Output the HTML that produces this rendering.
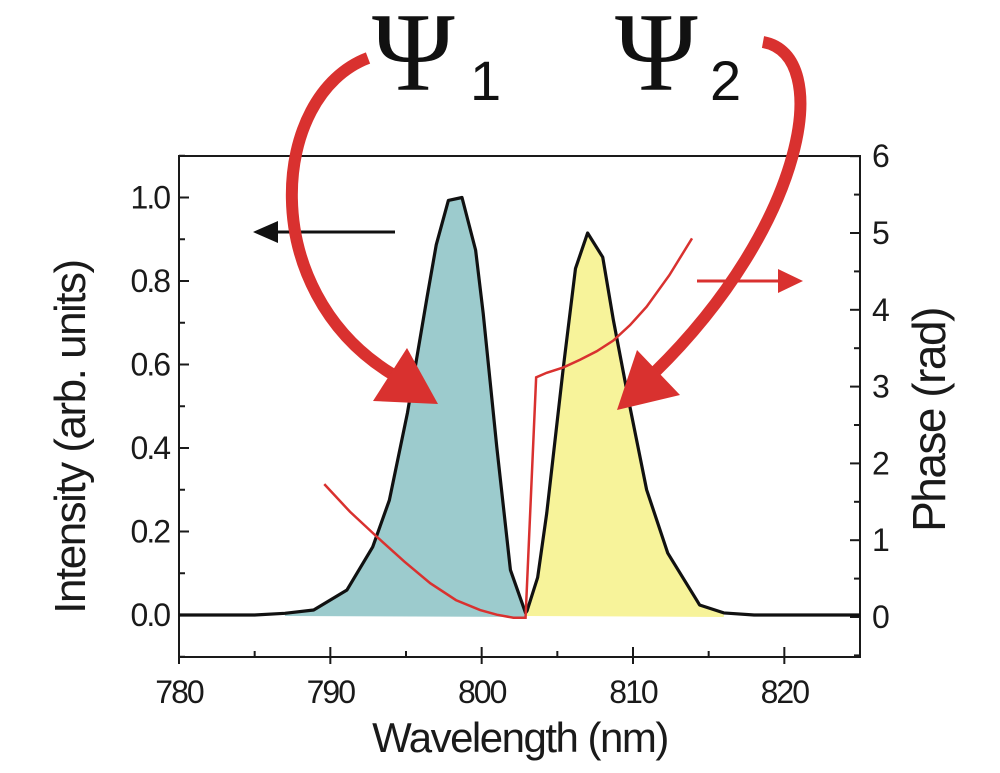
<!DOCTYPE html>
<html><head><meta charset="utf-8"><style>
html,body{margin:0;padding:0;background:#fff;}
svg{display:block;font-family:"Liberation Sans",Arial,sans-serif;}
</style></head><body>
<svg id="chart" width="1000" height="773" viewBox="0 0 1000 773">
  <g id="fills"></g>
  <g id="axes"></g>
  <g id="series"></g>
  <g id="annot"></g>
</svg>
<script>
const wavelengths = [780,785,787,788.9,791.1,792.8,793.9,795.1,796.4,797.0,797.8,798.7,799.6,800.1,801.0,801.9,802.9,803.0,803.7,804.3,805.4,806.2,807.0,808.0,808.7,809.8,810.9,812.3,814.2,814.4,816,818,825];
const intensity   = [0,0.0,0.004,0.012,0.06,0.163,0.275,0.485,0.763,0.887,0.993,1.0,0.874,0.723,0.402,0.108,0.005,0.01,0.09,0.244,0.594,0.83,0.915,0.857,0.707,0.498,0.3,0.148,0.036,0.024,0.005,0,0];
const phaseWl  = [789.6,791.3,793.1,794.9,796.6,798.3,799.9,801.0,802.1,802.9,803.6,804.3,805.4,806.5,807.6,808.7,809.8,810.9,812.4,813.9];
const phaseVal = [1.73,1.37,1.04,0.72,0.44,0.22,0.09,0.03,-0.01,-0.01,3.12,3.18,3.25,3.35,3.46,3.6,3.8,4.04,4.45,4.93];
const xTicks = [780,790,800,810,820];
const yLeftTicks = [0.0,0.2,0.4,0.6,0.8,1.0];
const yRightTicks = [0,1,2,3,4,5,6];

const L=179,R=860,T=156,B=657;
const x = w => L + (w-780)*(R-L)/45;
const yL = v => 615 - v*417.5;
const yR = v => 617 - v*76.8;
const NS="http://www.w3.org/2000/svg";
function mk(tag, attrs, parent){const e=document.createElementNS(NS,tag);for(const k in attrs)e.setAttribute(k,attrs[k]);parent.appendChild(e);return e;}
const fills=document.getElementById('fills'),axes=document.getElementById('axes'),series=document.getElementById('series');

function fillBetween(w0,w1,color,name){
  let pts=[];
  for(let i=0;i<wavelengths.length;i++){if(wavelengths[i]>=w0&&wavelengths[i]<=w1)pts.push(x(wavelengths[i])+','+yL(intensity[i]));}
  pts.push(x(w1)+','+(yL(0)+2));pts.push(x(w0)+','+(yL(0)+1));
  const p=mk('polygon',{points:pts.join(' '),fill:color},fills);
  
  
}
fillBetween(787,802.9,'#9ccbcd','psi1-fill');
fillBetween(803.0,816,'#f7f39a','psi2-fill');

const fr=mk('rect',{x:L,y:T,width:R-L,height:B-T,fill:'none',stroke:'#1a1a1a','stroke-width':2},axes);


for(let w=780;w<=825;w+=5){
  const major=(w%10===0);
  const t=mk('line',{x1:x(w),x2:x(w),y1:B+(major?7:0),y2:B-(major?10:6),stroke:'#1a1a1a','stroke-width':2},axes);
  
  
}
xTicks.forEach(w=>{
  const t=mk('text',{x:x(w),y:B+46,'text-anchor':'middle','font-size':32,fill:'#1a1a1a','letter-spacing':'-2'},axes);
  t.textContent=w;
  
  
});
for(let i=-1;i<=11;i++){
  const v=i/10;const major=(i%2===0);
  const t=mk('line',{x1:L,x2:L+(major?10:6),y1:yL(v),y2:yL(v),stroke:'#1a1a1a','stroke-width':2},axes);
  
  
}
yLeftTicks.forEach(v=>{
  const t=mk('text',{x:L-10,y:yL(v)+11,'text-anchor':'end','font-size':32,fill:'#1a1a1a','letter-spacing':'-2'},axes);
  t.textContent=v.toFixed(1);
  
  
});
for(let i=-1;i<=12;i++){
  const v=i/2;const major=(i%2===0);
  if(yR(v)<T-1)continue;
  const t=mk('line',{x1:R,x2:R-(major?10:6),y1:yR(v),y2:yR(v),stroke:'#1a1a1a','stroke-width':2},axes);
  
  
}
yRightTicks.forEach(v=>{
  const t=mk('text',{x:R+12,y:yR(v)+11,'text-anchor':'start','font-size':32,fill:'#1a1a1a'},axes);
  t.textContent=v;
  
  
});
let t=mk('text',{x:520,y:752,'text-anchor':'middle','font-size':42,fill:'#1a1a1a','letter-spacing':'-1.5'},axes);
t.textContent='Wavelength (nm)';


t=mk('text',{x:0,y:0,'text-anchor':'middle','font-size':44,fill:'#1a1a1a','letter-spacing':'-1.5',transform:'translate(85,437) rotate(-90)'},axes);
t.textContent='Intensity (arb. units)';


t=mk('text',{x:0,y:0,'text-anchor':'middle','font-size':46,fill:'#1a1a1a','letter-spacing':'-1.5',transform:'translate(945,420) rotate(-90)'},axes);
t.textContent='Phase (rad)';



const ip=mk('polyline',{points:wavelengths.map((w,i)=>x(w)+','+yL(intensity[i])).join(' '),fill:'none',stroke:'#111','stroke-width':3.2,'stroke-linejoin':'round'},series);


const pp=mk('polyline',{points:phaseWl.map((w,i)=>x(w)+','+yR(phaseVal[i])).join(' '),fill:'none',stroke:'#d9312f','stroke-width':2.5},series);


</script>
<svg style="position:absolute;left:0;top:0" width="1000" height="773">
  <g>
    <line x1="395" y1="232" x2="270" y2="232" stroke="#111" stroke-width="3"/>
    <polygon points="253,232 278,221 278,243" fill="#111"/>
  </g>
  <g>
    <line x1="697" y1="281" x2="785" y2="281" stroke="#d9312f" stroke-width="3"/>
    <polygon points="803,281 778,269 778,293" fill="#d9312f"/>
  </g>
  <g>
    <path d="M368,58 C270,95 255,290 392,374" fill="none" stroke="#d9312f" stroke-width="12"/>
    <polygon points="407,348 373,401 438,404" fill="#d9312f"/>
  </g>
  <g>
    <path d="M763,42 C835,55 805,225 655,372" fill="none" stroke="#d9312f" stroke-width="12"/>
    <polygon points="637,350 680,395 617,410" fill="#d9312f"/>
  </g>
  <g>
    <text x="372" y="90" font-family="Liberation Serif, serif" font-size="112" fill="#111">Ψ</text>
    <text x="470" y="100" font-family="Liberation Sans, sans-serif" font-size="56" fill="#111">1</text>
  </g>
  <g>
    <text x="615" y="90" font-family="Liberation Serif, serif" font-size="112" fill="#111">Ψ</text>
    <text x="710" y="100" font-family="Liberation Sans, sans-serif" font-size="56" fill="#111">2</text>
  </g>
</svg>
</body></html>
